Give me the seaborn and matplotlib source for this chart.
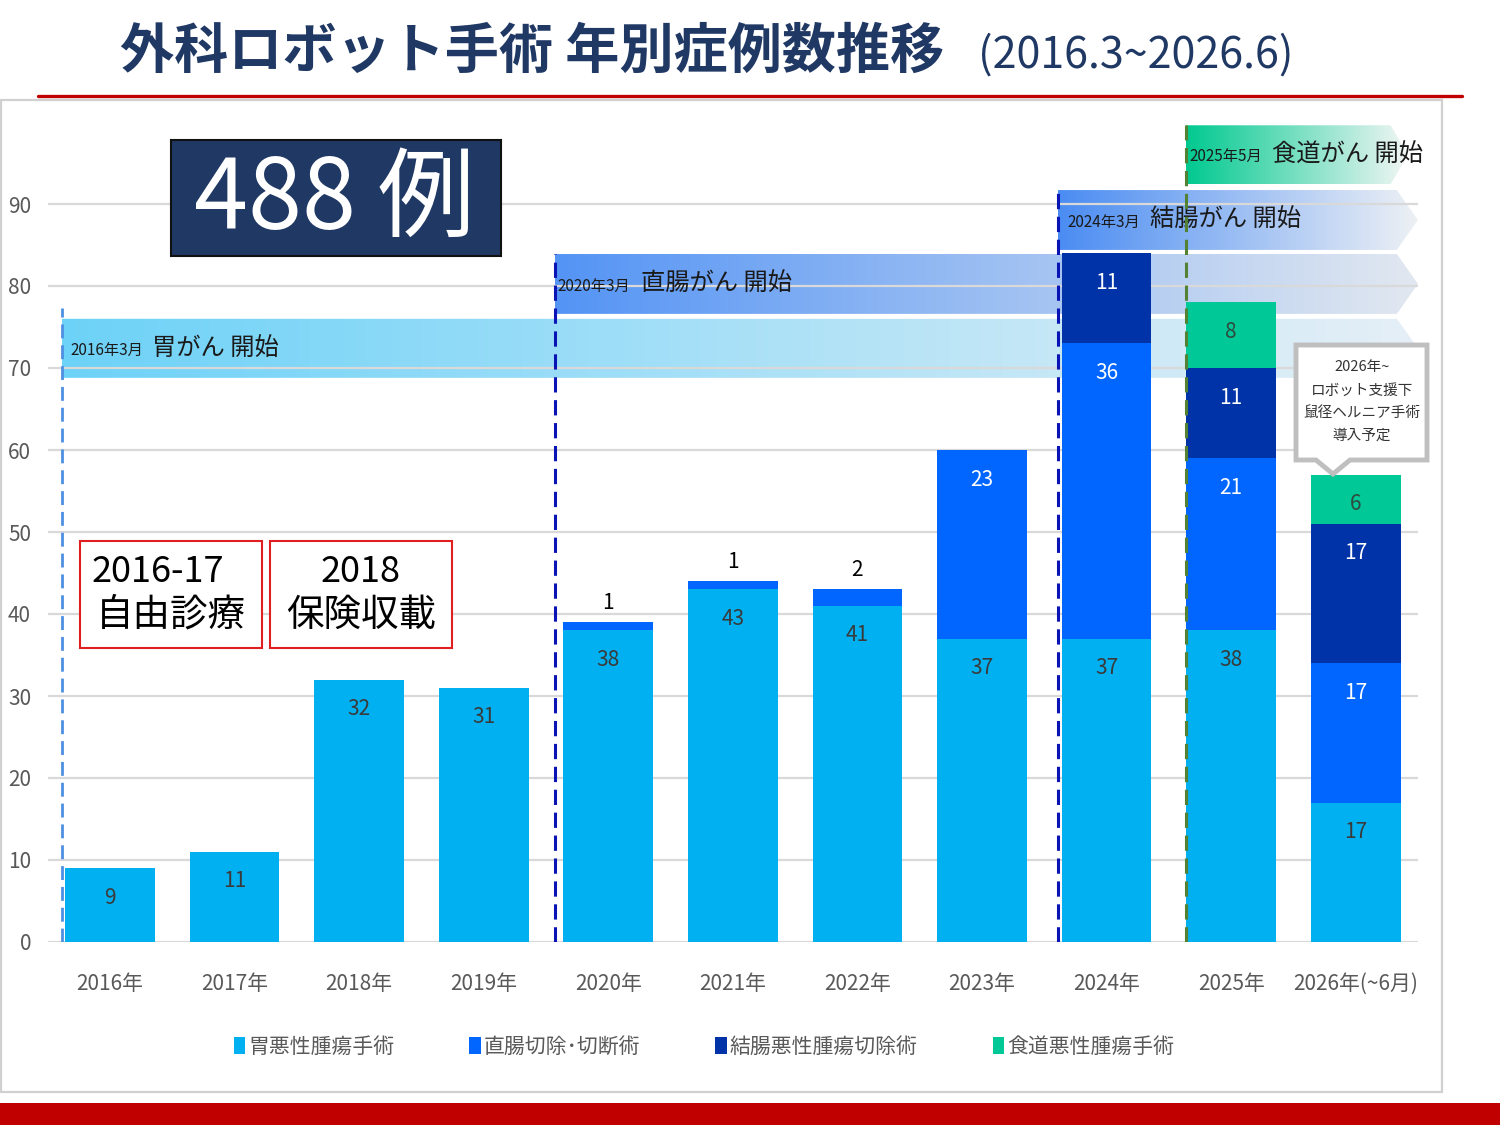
import numpy as np
import pandas as pd
import matplotlib
matplotlib.use("Agg")
import matplotlib.pyplot as plt
import matplotlib.colors as mcolors
from matplotlib.patches import Rectangle, Polygon, Patch
import seaborn as sns

# ---------------- data ----------------
years = ["2016年", "2017年", "2018年", "2019年", "2020年", "2021年",
         "2022年", "2023年", "2024年", "2025年", "2026年(~6月)"]
stomach = [9, 11, 32, 31, 38, 43, 41, 37, 37, 38, 17]      # 胃悪性腫瘍手術
rectum = [0, 0, 0, 0, 1, 1, 2, 23, 36, 21, 17]             # 直腸切除・切断術
colon = [0, 0, 0, 0, 0, 0, 0, 0, 11, 11, 17]               # 結腸悪性腫瘍切除術
esophagus = [0, 0, 0, 0, 0, 0, 0, 0, 0, 8, 6]              # 食道悪性腫瘍手術
series_names = ["胃悪性腫瘍手術", "直腸切除･切断術", "結腸悪性腫瘍切除術", "食道悪性腫瘍手術"]
y_ticks = [0, 10, 20, 30, 40, 50, 60, 70, 80, 90]
total_label = "488 例"
title_main = "外科ロボット手術 年別症例数推移"
title_sub = "(2016.3~2026.6)"

# ---------------- style ----------------
sns.set_theme(style="white")
plt.rcParams["font.family"] = ["Noto Sans CJK JP", "DejaVu Sans"]

C_ST = "#00b0f0"
C_RE = "#0066ff"
C_CO = "#0033a8"
C_ES = "#00c896"
TXT_GRAY = "#595959"

W, H = 1500, 1125
fig = plt.figure(figsize=(15, 11.25), dpi=100)
fig.patch.set_facecolor("white")


def fx(px):
    return px / W


def fy(py):
    return 1 - py / H


ax = fig.add_axes([fx(47.7), fy(942), (1418 - 47.7) / W, 820 / H])
ax.set_facecolor("none")

df = pd.DataFrame({"year": years, "st": stomach, "re": rectum, "co": colon, "es": esophagus})
df["c1"] = df["st"]
df["c2"] = df["c1"] + df["re"]
df["c3"] = df["c2"] + df["co"]
df["c4"] = df["c3"] + df["es"]

for col, color in [("c4", C_ES), ("c3", C_CO), ("c2", C_RE), ("c1", C_ST)]:
    sns.barplot(data=df, x="year", y=col, order=years, color=color, saturation=1,
                width=0.72, errorbar=None, ax=ax, zorder=3, linewidth=0)

# ---------------- banners (gradient arrows) ----------------
def banner(x0, xb, xt, y0, y1, c_left, c_right, small, big, off_small, off_big):
    poly = Polygon([(x0, y0), (xb, y0), (xt, (y0 + y1) / 2), (xb, y1), (x0, y1)],
                   closed=True, transform=ax.transData, facecolor="none", edgecolor="none")
    ax.add_patch(poly)
    cl = np.array(mcolors.to_rgba(c_left))
    cr = np.array(mcolors.to_rgba(c_right))
    t = np.linspace(0, 1, 256)[:, None]
    grad = (cl[None, :] * (1 - t) + cr[None, :] * t)[None, :, :]
    im = ax.imshow(grad, extent=(x0, xt, y0, y1), aspect="auto", origin="lower",
                   zorder=0.3, interpolation="bilinear")
    im.set_clip_path(poly)
    ym = (y0 + y1) / 2
    ax.annotate(small, xy=(x0, ym), xytext=(off_small, -2), textcoords="offset pixels",
                ha="left", va="center", fontsize=11, color="#1a1a1a", zorder=1)
    ax.annotate(big, xy=(x0, ym), xytext=(off_big, 0), textcoords="offset pixels",
                ha="left", va="center", fontsize=17.5, color="#1a1a1a", zorder=1)


banner(-0.385, 10.33, 10.5, 68.8, 76.0, "#6dd2f8", "#e6eff6", "2016年3月", "胃がん 開始", 8, 90)
banner(3.571, 10.33, 10.5, 76.6, 83.9, "#5494f5", "#e2e8f0", "2020年3月", "直腸がん 開始", 3, 86)
banner(7.608, 10.33, 10.5, 84.4, 91.7, "#4a8cf2", "#eef1f5", "2024年3月", "結腸がん 開始", 10, 92)
banner(8.636, 10.28, 10.42, 92.4, 99.6, "#00c98f", "#f3f6f5", "2025年5月", "食道がん 開始", 4, 86)

# ---------------- dashed start lines ----------------
for xv, ytop, col, lw in [(-0.385, 77.3, "#4d8fe0", 2.0), (3.571, 83.9, "#0a14b4", 2.2),
                          (7.608, 91.7, "#0a14b4", 2.2), (8.636, 99.6, "#548235", 2.2)]:
    ax.plot([xv, xv], [0, ytop], color=col, lw=lw, ls=(0, (5, 2.5)), zorder=4)

# ---------------- bar labels ----------------
for i in range(len(years)):
    bottoms = [0, df["c1"][i], df["c2"][i], df["c3"][i]]
    vals = [stomach[i], rectum[i], colon[i], esophagus[i]]
    colors = ["#3a3a3a", "white", "white", "#2e4a40"]
    for v, b, c in zip(vals, bottoms, colors):
        if v <= 0:
            continue
        top = b + v
        if v < 5:
            ax.text(i, top + 2.4, str(v), ha="center", va="center", fontsize=15,
                    color="black", zorder=5)
        else:
            ax.text(i, top - 3.6, str(v), ha="center", va="center", fontsize=15,
                    color=c, zorder=5)

# ---------------- axes styling ----------------
ax.set_xlim(-0.5, 10.5)
ax.set_ylim(0, 100)
ax.set_yticks(y_ticks)
ax.set_xlabel("")
ax.set_ylabel("")
ax.set_axisbelow(True)
ax.yaxis.grid(True, color="#d9d9d9", lw=1.6)
ax.grid(axis="x", visible=False)
for gl in ax.get_ygridlines():
    gl.set_zorder(0.6)
for s in ax.spines.values():
    s.set_visible(False)
ax.tick_params(axis="y", length=0, pad=12, labelsize=15, labelcolor=TXT_GRAY)
ax.tick_params(axis="x", length=0, pad=22, labelsize=15, labelcolor=TXT_GRAY)

# ---------------- legend ----------------
handles = [Patch(facecolor=c, edgecolor="none") for c in [C_ST, C_RE, C_CO, C_ES]]
fig.legend(handles, series_names, loc="center", bbox_to_anchor=(fx(704), fy(1047)),
           ncol=4, frameon=False, fontsize=15, labelcolor=TXT_GRAY,
           handlelength=0.55, handleheight=0.9, handletextpad=0.15, columnspacing=3.6)

# ---------------- title & decorations ----------------
fig.text(fx(120), fy(52), title_main, ha="left", va="center", fontsize=39,
         fontweight="bold", color="#1f3864")
fig.text(fx(978), fy(56), title_sub, ha="left", va="center", fontsize=31,
         color="#1f3864")
fig.add_artist(plt.Line2D([fx(38), fx(1462)], [fy(96), fy(96)], color="#c00000", lw=2.4,
                          transform=fig.transFigure))
fig.add_artist(Rectangle((fx(1), fy(1092)), fx(1441), (1092 - 100) / H, transform=fig.transFigure,
                         facecolor="none", edgecolor="#d0d0d0", lw=1.6, zorder=0))
fig.add_artist(Rectangle((0, 0), 1, (1125 - 1103) / H, transform=fig.transFigure,
                         facecolor="#c00000", edgecolor="none"))

# 488 box
fig.add_artist(Rectangle((fx(171), fy(256)), (501 - 171) / W, (256 - 140) / H,
                         transform=fig.transFigure, facecolor="#1f3864",
                         edgecolor="#111111", lw=1.5, zorder=6))
fig.text(fx(334), fy(201), total_label, ha="center", va="center", fontsize=70,
         color="white", zorder=7)

# red boxes
for (xa, xb), l1, x1, l2 in [((80, 262), "2016-17", 158, "自由診療"),
                             ((270, 452), "2018", 361, "保険収載")]:
    fig.add_artist(Rectangle((fx(xa), fy(648)), (xb - xa) / W, (648 - 541) / H,
                             transform=fig.transFigure, facecolor="white",
                             edgecolor="#e02020", lw=1.5, zorder=6))
    fig.text(fx(x1), fy(572), l1, ha="center", va="center", fontsize=26,
             color="black", zorder=7)
    fig.text(fx((xa + xb) / 2), fy(615), l2, ha="center", va="center", fontsize=27,
             color="black", zorder=7)

# callout
pts = [(1296, 345), (1427, 345), (1427, 460), (1350, 460), (1333, 474), (1316, 460), (1296, 460)]
fig.add_artist(Polygon([(fx(a), fy(b)) for a, b in pts], closed=True, transform=fig.transFigure,
                       facecolor="white", edgecolor="#bfbfbf", lw=3.5, zorder=6))
for yy, line in zip([367, 391, 413, 436], ["2026年~", "ロボット支援下", "鼠径ヘルニア手術", "導入予定"]):
    fig.text(fx(1362), fy(yy), line, ha="center", va="center", fontsize=10.5,
             color="#333333", zorder=7)

fig.savefig("out.png", dpi=100, facecolor="white")
